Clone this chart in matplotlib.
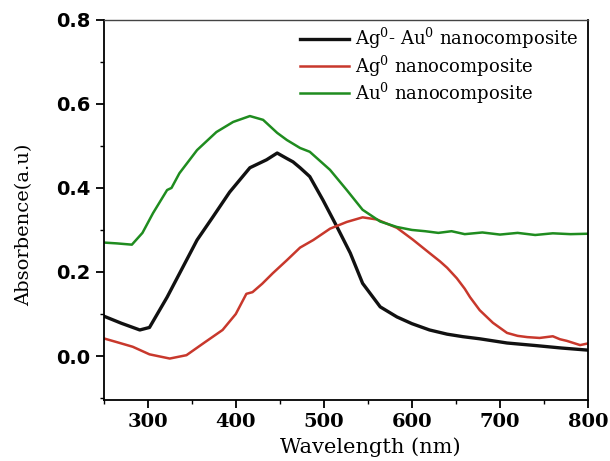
import numpy as np
import matplotlib
matplotlib.use("Agg")
import matplotlib.pyplot as plt
from matplotlib.ticker import MultipleLocator

# Data
black_x = [250, 270, 291, 302, 322, 340, 356, 374, 393, 416, 435, 447, 458, 465,
           473, 484, 499, 515, 530, 544, 564, 583, 600, 620, 640, 658, 677, 708,
           740, 770, 800]
black_y = [0.095, 0.078, 0.062, 0.068, 0.14, 0.212, 0.276, 0.331, 0.39, 0.448,
           0.467, 0.483, 0.47, 0.462, 0.448, 0.427, 0.371, 0.307, 0.245, 0.173,
           0.117, 0.093, 0.077, 0.062, 0.052, 0.046, 0.041, 0.031, 0.025, 0.019,
           0.014]

red_x = [250, 265, 283, 302, 325, 344, 363, 385, 400, 412, 419, 430, 442, 458,
         473, 488, 507, 526, 544, 560, 583, 601, 620, 632, 640, 651, 660, 666,
         677, 692, 708, 720, 731, 745, 760, 768, 776, 791, 800]
red_y = [0.042, 0.033, 0.022, 0.004, -0.006, 0.002, 0.03, 0.062, 0.1, 0.148,
         0.152, 0.172, 0.197, 0.228, 0.258, 0.276, 0.303, 0.319, 0.33, 0.325,
         0.305, 0.277, 0.245, 0.225, 0.21, 0.185, 0.16, 0.14, 0.109, 0.079,
         0.055, 0.048, 0.045, 0.043, 0.047, 0.040, 0.036, 0.026, 0.03]

green_x = [250, 265, 282, 294, 306, 322, 327, 336, 356, 378, 397, 416, 431, 447,
           458, 473, 484, 507, 526, 544, 564, 583, 600, 615, 630, 645, 660, 680,
           700, 720, 740, 760, 780, 800]
green_y = [0.27, 0.268, 0.265, 0.293, 0.34, 0.395, 0.40, 0.435, 0.49, 0.533,
           0.557, 0.571, 0.562, 0.531, 0.514, 0.495, 0.486, 0.443, 0.395, 0.348,
           0.32, 0.307, 0.30, 0.297, 0.293, 0.297, 0.29, 0.294, 0.289, 0.293,
           0.288, 0.292, 0.290, 0.291]

labels = ["Ag$^0$- Au$^0$ nanocomposite", "Ag$^0$ nanocomposite", "Au$^0$ nanocomposite"]

plt.rcParams["mathtext.fontset"] = "dejavuserif"
serif = "DejaVu Serif"

fig = plt.figure(figsize=(6.10, 4.61), dpi=100)
ax = fig.add_axes([0.170, 0.132, 0.794, 0.825])

ax.plot(black_x, black_y, color="#111111", lw=2.4, label=labels[0])
ax.plot(red_x, red_y, color="#c8382c", lw=1.8, label=labels[1])
ax.plot(green_x, green_y, color="#1f8c1f", lw=1.8, label=labels[2])

ax.set_xlim(250, 800)
ax.set_ylim(-0.105, 0.8)
ax.xaxis.set_minor_locator(MultipleLocator(50))
ax.yaxis.set_minor_locator(MultipleLocator(0.1))
ax.set_xticks([300, 400, 500, 600, 700, 800])
ax.set_yticks([0.0, 0.2, 0.4, 0.6, 0.8])
ax.set_yticklabels(["0.0", "0.2", "0.4", "0.6", "0.8"])

ax.tick_params(which="major", direction="out", length=6, width=1.3)
ax.tick_params(which="minor", direction="out", length=3, width=1.0)
for lab in ax.get_yticklabels():
    lab.set_fontfamily("DejaVu Sans")
    lab.set_fontweight("bold")
    lab.set_fontsize(14)
for lab in ax.get_xticklabels():
    lab.set_fontfamily(serif)
    lab.set_fontweight("bold")
    lab.set_fontsize(14)

for s in ax.spines.values():
    s.set_linewidth(1.3)
ax.spines["top"].set_linewidth(1.0)
ax.spines["top"].set_color("#444444")

ax.set_xlabel("Wavelength (nm)", fontfamily=serif, fontsize=15)
ax.set_ylabel("Absorbence(a.u)", fontfamily=serif, fontsize=14)
ax.xaxis.set_label_coords(0.55, -0.098)
ax.yaxis.set_label_coords(-0.146, 0.46)

leg = ax.legend(loc="upper left", bbox_to_anchor=(300 / 610, 1 - 26 / 461),
                bbox_transform=fig.transFigure, frameon=False, borderpad=0,
                borderaxespad=0, handlelength=2.7, handletextpad=0.33,
                labelspacing=0.12, prop={"family": serif, "size": 13})

fig.savefig("out.png", dpi=100)
